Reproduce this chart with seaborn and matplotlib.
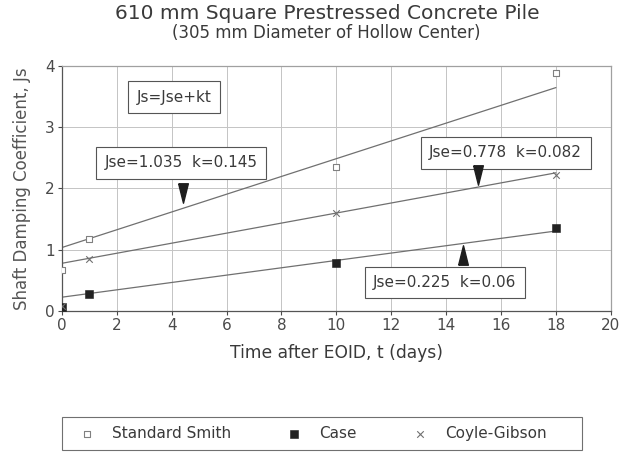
import numpy as np
import pandas as pd
import matplotlib
matplotlib.use("Agg")
import matplotlib.pyplot as plt
from matplotlib.path import Path
from matplotlib.patches import Rectangle
import seaborn as sns

# measured points
t_smith = [0, 1, 10, 18]
js_smith = [0.67, 1.18, 2.35, 3.89]
t_case = [0, 1, 10, 18]
js_case = [0.07, 0.28, 0.78, 1.36]
t_coyle = [0, 1, 10, 18]
js_coyle = [0.08, 0.85, 1.6, 2.22]

# fitted Js = Jse + k t
jse = [1.035, 0.225, 0.778]
k = [0.145, 0.06, 0.082]
t_fit = [0, 18]

sns.set_style("white")
plt.rcParams["font.family"] = ["DejaVu Sans"]
txt = "#3a3a3a"

fig = plt.figure(figsize=(6.31, 4.54), dpi=100)
ax = fig.add_axes([0.098, 0.315, 0.87, 0.54])

for a, b in zip(jse, k):
    yy = [a + b * t for t in t_fit]
    sns.lineplot(x=t_fit, y=yy, ax=ax, color="#707070", lw=0.9)

sns.scatterplot(x=t_smith, y=js_smith, ax=ax, marker="s", s=24, facecolor="white",
                edgecolor="#808080", linewidth=0.8, label="Standard Smith", zorder=5)
sns.scatterplot(x=t_case, y=js_case, ax=ax, marker="s", s=26, color="#222222",
                edgecolor="#222222", label="Case", zorder=5)
sns.scatterplot(x=t_coyle, y=js_coyle, ax=ax, marker="x", s=22, color="#707070",
                linewidth=0.8, label="Coyle-Gibson", zorder=5)

ax.set_xlim(0, 20)
ax.set_ylim(0, 4)
ax.set_xticks(range(0, 21, 2))
ax.set_yticks(range(0, 5))
ax.grid(True, color="#c4c4c4", lw=0.7)
for name, s in ax.spines.items():
    s.set_color("#555555" if name in ("left", "bottom") else "#a0a0a0")
    s.set_linewidth(0.9)
ax.tick_params(colors="#4a4a4a", labelsize=11, length=3, direction="out", left=True, bottom=True,
               pad=2)
ax.set_xlabel("Time after EOID, t (days)", fontsize=12.3, color=txt, labelpad=8)
ax.set_ylabel("Shaft Damping Coefficient, Js", fontsize=12, color="#555555", labelpad=10)

box = dict(boxstyle="square,pad=0.55", fc="white", ec="#555555", lw=0.8)
ax.text(4.08, 3.49, "Js=Jse+kt", ha="center", va="center", fontsize=11, color=txt, bbox=box)
ax.text(4.34, 2.42, "Jse=1.035  k=0.145", ha="center", va="center", fontsize=11, color=txt, bbox=box)
ax.text(16.17, 2.58, "Jse=0.778  k=0.082", ha="center", va="center", fontsize=11, color=txt, bbox=box)
ax.text(13.95, 0.465, "Jse=0.225  k=0.06", ha="center", va="center", fontsize=11, color=txt, bbox=box)

tri_down = Path([(-0.5, 1), (0.5, 1), (0, -1), (-0.5, 1)])
tri_up = Path([(-0.5, -1), (0.5, -1), (0, 1), (-0.5, -1)])
ax.plot([4.41], [1.93], marker=tri_down, ms=14, color="#1e1e1e", zorder=6)
ax.plot([15.15], [2.22], marker=tri_down, ms=14, color="#1e1e1e", zorder=6)
ax.plot([14.6], [0.914], marker=tri_up, ms=14, color="#1e1e1e", zorder=6)

handles, labels = ax.get_legend_handles_labels()
ax.get_legend().remove()
fig.legend(handles, labels, loc="center left", bbox_to_anchor=(0.1258, 0.0452), ncol=3,
           frameon=False, fontsize=11, handlelength=1.0, handletextpad=1.13,
           columnspacing=3.65, borderpad=0, borderaxespad=0, labelcolor=txt)
fig.patches.append(Rectangle((0.0983, 0.0088), 0.824, 0.0727, transform=fig.transFigure,
                             fill=False, ec="#707070", lw=0.8))

fig.text(0.518, 0.971, "610 mm Square Prestressed Concrete Pile", ha="center", va="center",
         fontsize=14.5, color=txt)
fig.text(0.517, 0.927, "(305 mm Diameter of Hollow Center)", ha="center", va="center",
         fontsize=12, color=txt)

fig.savefig("out.png", dpi=100)
